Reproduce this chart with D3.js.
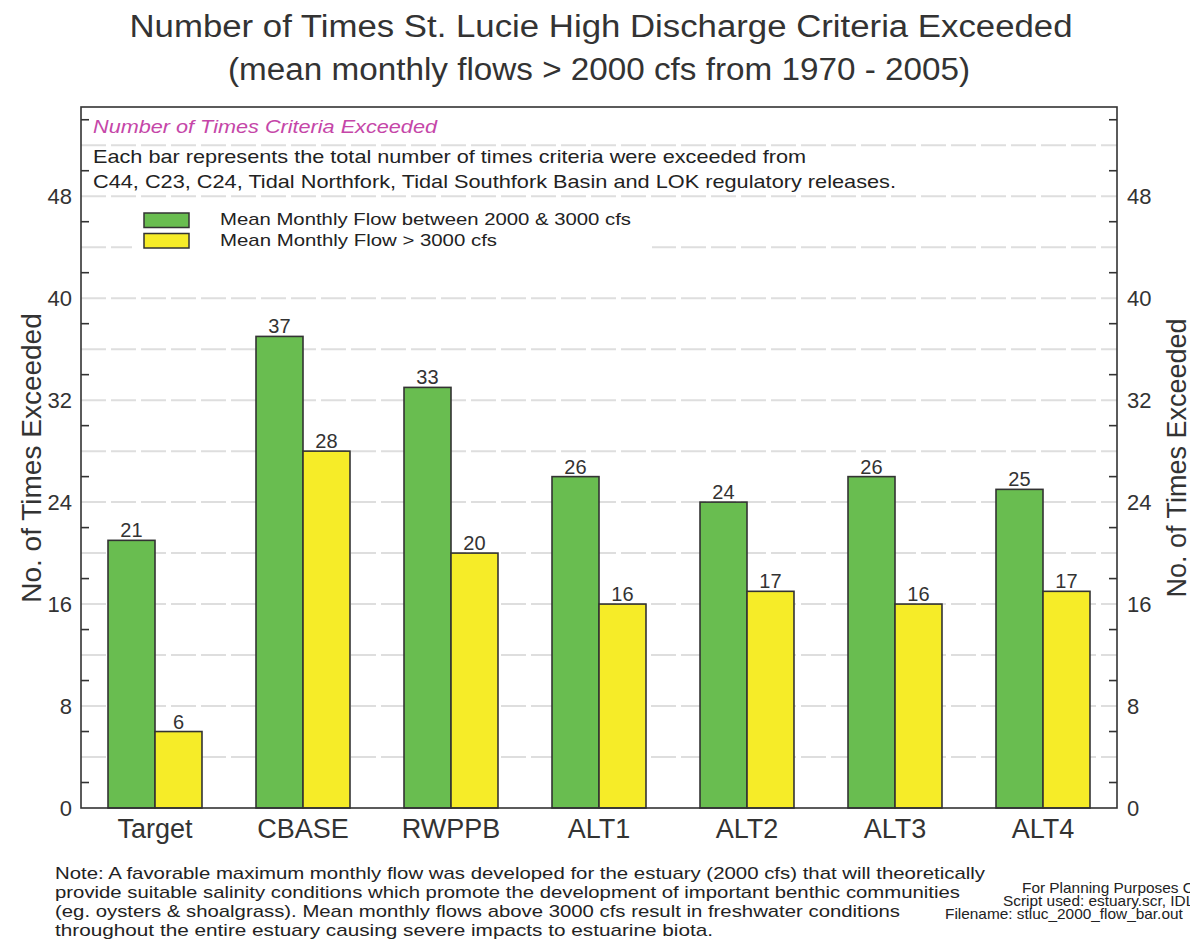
<!DOCTYPE html>
<html>
<head>
<meta charset="utf-8">
<script src="https://cdn.jsdelivr.net/npm/d3@7"></script>
<style>
  html, body { margin: 0; padding: 0; background: #fff; }
  svg { display: block; font-family: "Liberation Sans", Arial, sans-serif; }
</style>
</head>
<body>
<svg id="chart" width="1190" height="944"></svg>
<script>
// ---- data ----
const categories = ["Target", "CBASE", "RWPPB", "ALT1", "ALT2", "ALT3", "ALT4"];
const seriesNames = ["Mean Monthly Flow between 2000 & 3000 cfs", "Mean Monthly Flow > 3000 cfs"];
const flow2000to3000 = [21, 37, 33, 26, 24, 26, 25];
const flowOver3000 = [6, 28, 20, 16, 17, 16, 17];
const yLabelTicks = [0, 8, 16, 24, 32, 40, 48];
const gridValues = [4, 8, 12, 16, 20, 24, 28, 32, 36, 40, 44, 48, 52];
const minorTicks = [2, 6, 10, 14, 18, 22, 26, 30, 34, 38, 42, 46, 50, 54];
const titleText = "Number of Times St. Lucie High Discharge Criteria Exceeded";
const subtitleText = "(mean monthly flows > 2000 cfs from 1970 - 2005)";
const boxTitle = "Number of Times Criteria Exceeded";
const boxLines = [
  "Each bar represents the total number of times criteria were exceeded from",
  "C44, C23, C24, Tidal Northfork, Tidal Southfork Basin and LOK regulatory releases."
];
const noteLines = [
  "Note: A favorable maximum monthly flow was developed for the estuary (2000 cfs) that will theoretically",
  "provide suitable salinity conditions which promote the development of important benthic communities",
  "(eg. oysters & shoalgrass). Mean monthly flows above 3000 cfs result in freshwater conditions",
  "throughout the entire estuary causing severe impacts to estuarine biota."
];
const footLines = [
  "For Planning Purposes Only",
  "Script used: estuary.scr, IDL",
  "Filename: stluc_2000_flow_bar.out"
];

const series = [flow2000to3000, flowOver3000];
const colors = ["#69bd50", "#f6ec28"];

// ---- layout ----
const svg = d3.select("#chart");
const L = 81, R = 1117, T = 107, B = 808;
const TEXT = "#333";

const y = d3.scaleLinear().domain([0, 55]).range([B, T]);
const x0 = d3.scaleBand().domain(categories).range([L, R]).paddingInner(0.365).paddingOuter(0.1825);
const x1 = d3.scaleBand().domain([0, 1]).range([0, x0.bandwidth()]).padding(0);

// grid
svg.append("g").selectAll("line").data(gridValues).join("line")
  .attr("x1", L).attr("x2", R)
  .attr("y1", d => y(d)).attr("y2", d => y(d))
  .attr("stroke", "#dedede").attr("stroke-width", 2)
  .attr("stroke-dasharray", "25,5");

// annotation box background
svg.append("rect").attr("x", 132).attr("y", 205).attr("width", 520).attr("height", 50).attr("fill", "#fff");

// annotation text
svg.append("text").attr("x", 93).attr("y", 133)
  .attr("font-size", 19).attr("font-style", "italic").attr("fill", "#c546a8")
  .attr("textLength", 344).attr("lengthAdjust", "spacingAndGlyphs")
  .text(boxTitle);
const boxLens = [713, 803];
svg.append("g").selectAll("text").data(boxLines).join("text")
  .attr("x", 93).attr("y", (d, i) => 163 + i * 25)
  .attr("font-size", 18.5).attr("fill", "#222")
  .attr("textLength", (d, i) => boxLens[i]).attr("lengthAdjust", "spacingAndGlyphs")
  .text(d => d);

// legend
const lg = svg.append("g");
seriesNames.forEach((name, i) => {
  lg.append("rect").attr("x", 144).attr("y", 213 + i * 20.5).attr("width", 45).attr("height", 14.5)
    .attr("fill", colors[i]).attr("stroke", "#333").attr("stroke-width", 1.5);
  lg.append("text").attr("x", 220).attr("y", 225 + i * 20.5)
    .attr("font-size", 17).attr("fill", "#222")
    .attr("textLength", i === 0 ? 411 : 277).attr("lengthAdjust", "spacingAndGlyphs")
    .text(name);
});

// bars
const groups = svg.append("g").selectAll("g").data(categories).join("g")
  .attr("transform", d => `translate(${x0(d)},0)`);
groups.selectAll("rect").data((c, ci) => series.map((s, si) => ({ si, v: s[ci] }))).join("rect")
  .attr("x", d => x1(d.si)).attr("width", x1.bandwidth())
  .attr("y", d => y(d.v)).attr("height", d => y(0) - y(d.v))
  .attr("fill", d => colors[d.si]).attr("stroke", "#333").attr("stroke-width", 1.6);
groups.selectAll("text").data((c, ci) => series.map((s, si) => ({ si, v: s[ci] }))).join("text")
  .attr("x", d => x1(d.si) + x1.bandwidth() / 2).attr("y", d => y(d.v) - 3)
  .attr("text-anchor", "middle").attr("font-size", 20).attr("fill", TEXT)
  .text(d => d.v);

// frame
svg.append("rect").attr("x", L).attr("y", T).attr("width", R - L).attr("height", B - T)
  .attr("fill", "none").attr("stroke", "#333").attr("stroke-width", 1.6);

// left axis
const leftAxis = d3.axisLeft(y).tickValues(yLabelTicks).tickSize(0).tickPadding(9);
const gl = svg.append("g").attr("transform", `translate(${L},0)`).call(leftAxis);
gl.select(".domain").remove();
gl.selectAll("text").attr("font-size", 22).attr("fill", TEXT).attr("font-family", "Liberation Sans, Arial, sans-serif");
const rightAxis = d3.axisRight(y).tickValues(yLabelTicks).tickSize(0).tickPadding(10);
const gr = svg.append("g").attr("transform", `translate(${R},0)`).call(rightAxis);
gr.select(".domain").remove();
gr.selectAll("text").attr("font-size", 22).attr("fill", TEXT).attr("font-family", "Liberation Sans, Arial, sans-serif");

// minor ticks (inward)
svg.append("g").selectAll("line").data(minorTicks).join("line")
  .attr("x1", L).attr("x2", L + 8).attr("y1", d => y(d)).attr("y2", d => y(d))
  .attr("stroke", "#333").attr("stroke-width", 1.6);
svg.append("g").selectAll("line").data(minorTicks).join("line")
  .attr("x1", R - 8).attr("x2", R).attr("y1", d => y(d)).attr("y2", d => y(d))
  .attr("stroke", "#333").attr("stroke-width", 1.6);

// x axis labels
const xAxis = d3.axisBottom(x0).tickSize(0).tickPadding(0);
const gx = svg.append("g").attr("transform", `translate(0,${B})`).call(xAxis);
gx.select(".domain").remove();
gx.selectAll("text").attr("font-size", 27).attr("fill", TEXT)
  .attr("font-family", "Liberation Sans, Arial, sans-serif")
  .attr("dy", null).attr("y", 30);

// axis titles
svg.append("text").attr("transform", "translate(41,458) rotate(-90)")
  .attr("text-anchor", "middle").attr("font-size", 28).attr("fill", TEXT)
  .text("No. of Times Exceeded");
svg.append("text").attr("transform", "translate(1186,458) rotate(-90)")
  .attr("text-anchor", "middle").attr("font-size", 27).attr("fill", TEXT)
  .text("No. of Times Exceeded");

// titles
svg.append("text").attr("x", 601).attr("y", 37).attr("text-anchor", "middle")
  .attr("font-size", 31).attr("fill", TEXT)
  .attr("textLength", 943).attr("lengthAdjust", "spacingAndGlyphs")
  .text(titleText);
svg.append("text").attr("x", 599).attr("y", 80).attr("text-anchor", "middle")
  .attr("font-size", 31).attr("fill", TEXT)
  .attr("textLength", 742).attr("lengthAdjust", "spacingAndGlyphs")
  .text(subtitleText);

// note
svg.append("g").selectAll("text").data(noteLines).join("text")
  .attr("x", 55).attr("y", (d, i) => 879 + i * 19)
  .attr("font-size", 17).attr("fill", "#222")
  .attr("textLength", (d, i) => [930, 905, 845, 658][i]).attr("lengthAdjust", "spacingAndGlyphs")
  .text(d => d);

// footer (runs past the right edge, as in the reference)
svg.append("g").selectAll("text").data(footLines).join("text")
  .attr("transform", (d, i) => `translate(${[1022, 1003, 945][i]},${893 + i * 13}) scale(1.1,1)`)
  .attr("font-size", 14).attr("fill", "#222")
  .text(d => d);
</script>
</body>
</html>
